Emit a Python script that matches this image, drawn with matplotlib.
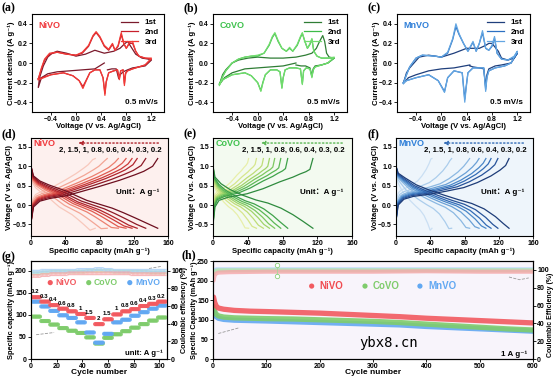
import numpy as np
import matplotlib
matplotlib.use('Agg')
from matplotlib import pyplot as plt

plt.rcParams['font.family'] = ['Liberation Sans', 'DejaVu Sans', 'Noto Sans CJK SC']
plt.rcParams['font.weight'] = 'bold'
plt.rcParams['axes.labelweight'] = 'bold'
plt.rcParams['axes.linewidth'] = 0.8

W, H = 554, 378

# ---------------- CV data (a-c) ----------------
names = ['NiVO', 'CoVO', 'MnVO']
cycle_labels = ['1st', '2nd', '3rd']

nivo_cv1_v = [0.45, 0.3, 0.1, -0.1, -0.3, -0.45, -0.55, -0.6, -0.58, -0.52, -0.45, -0.38, -0.3, -0.15, 0.0, 0.15,
              0.3, 0.45, 0.6, 0.7, 0.78, 0.82, 0.88, 0.95, 1.05, 1.15, 1.2, 1.1, 1.0, 0.9, 0.82, 0.75, 0.7, 0.68,
              0.64, 0.57, 0.5]
nivo_cv1_i = [0.0, -0.06, -0.07, -0.08, -0.09, -0.11, -0.15, -0.25, -0.15, -0.03, 0.06, 0.1, 0.12, 0.1, 0.07, 0.09,
              0.13, 0.1, 0.12, 0.15, 0.2, 0.22, 0.16, 0.09, 0.05, 0.04, 0.03, -0.03, -0.04, -0.05, -0.07, -0.09,
              -0.12, -0.16, -0.06, -0.06, -0.07]
nivo_cv2_v = [-0.6, -0.55, -0.5, -0.42, -0.3, -0.15, 0.0, 0.1, 0.2, 0.27, 0.32, 0.38, 0.45, 0.52, 0.58, 0.62, 0.67,
              0.72, 0.76, 0.8, 0.85, 0.9, 0.95, 1.0, 1.1, 1.2, 1.1, 1.0, 0.9, 0.82, 0.79, 0.77, 0.75, 0.71, 0.69,
              0.66, 0.6, 0.52, 0.48, 0.46, 0.43, 0.38, 0.3, 0.22, 0.15, 0.11, 0.05, -0.05, -0.2, -0.4, -0.55, -0.6]
nivo_cv2_i = [-0.16, -0.06, 0.03, 0.09, 0.11, 0.09, 0.08, 0.1, 0.17, 0.27, 0.31, 0.26, 0.17, 0.13, 0.19, 0.13, 0.17,
              0.29, 0.2, 0.15, 0.2, 0.2, 0.12, 0.07, 0.05, 0.04, -0.02, -0.04, -0.06, -0.08, -0.1, -0.21, -0.07,
              -0.08, -0.16, -0.07, -0.08, -0.1, -0.19, -0.31, -0.15, -0.07, -0.07, -0.1, -0.19, -0.24, -0.18, -0.13,
              -0.1, -0.12, -0.15, -0.16]
nivo_cv3_v = nivo_cv2_v
nivo_cv3_i = [-0.17, -0.05, 0.04, 0.1, 0.11, 0.09, 0.08, 0.11, 0.18, 0.28, 0.32, 0.27, 0.18, 0.14, 0.2, 0.13, 0.18,
              0.31, 0.2, 0.15, 0.21, 0.22, 0.12, 0.07, 0.05, 0.05, -0.02, -0.04, -0.06, -0.08, -0.11, -0.23, -0.07,
              -0.08, -0.17, -0.07, -0.08, -0.1, -0.2, -0.33, -0.15, -0.07, -0.07, -0.1, -0.2, -0.26, -0.18, -0.13,
              -0.1, -0.12, -0.16, -0.17]

covo_cv1_v = [0.6, 0.4, 0.2, 0.0, -0.2, -0.4, -0.52, -0.6, -0.55, -0.5, -0.4, -0.3, -0.15, 0.0, 0.2, 0.4, 0.6, 0.75,
              0.85, 0.92, 0.97, 1.02, 1.05, 1.08, 1.12, 1.2, 1.1, 1.0, 0.9, 0.87, 0.85, 0.82, 0.75, 0.68, 0.6]
covo_cv1_i = [0.0, -0.03, -0.04, -0.05, -0.06, -0.1, -0.15, -0.22, -0.12, -0.07, 0.0, 0.03, 0.05, 0.06, 0.05, 0.05,
              0.06, 0.08, 0.1, 0.15, 0.22, 0.28, 0.22, 0.1, 0.06, 0.05, 0.0, -0.02, -0.03, -0.06, -0.13, -0.05,
              -0.03, -0.03, -0.02]
covo_cv2_v = [-0.6, -0.55, -0.5, -0.4, -0.3, -0.2, -0.1, 0.0, 0.1, 0.18, 0.23, 0.27, 0.32, 0.38, 0.45, 0.5, 0.55,
              0.62, 0.67, 0.7, 0.74, 0.78, 0.82, 0.85, 0.88, 0.93, 1.0, 1.1, 1.2, 1.1, 1.0, 0.9, 0.87, 0.85, 0.82,
              0.76, 0.72, 0.7, 0.67, 0.6, 0.5, 0.43, 0.4, 0.38, 0.35, 0.3, 0.2, 0.12, 0.08, 0.05, 0.0, -0.1, -0.2,
              -0.4, -0.55, -0.6]
covo_cv2_i = [-0.22, -0.14, -0.08, 0.0, 0.04, 0.06, 0.07, 0.07, 0.1, 0.18, 0.26, 0.3, 0.22, 0.15, 0.12, 0.15, 0.12,
              0.18, 0.26, 0.3, 0.22, 0.15, 0.19, 0.24, 0.12, 0.07, 0.05, 0.05, 0.05, 0.0, -0.02, -0.04, -0.07,
              -0.14, -0.06, -0.05, -0.08, -0.21, -0.06, -0.05, -0.05, -0.07, -0.15, -0.25, -0.09, -0.07, -0.07,
              -0.12, -0.2, -0.28, -0.2, -0.13, -0.1, -0.12, -0.17, -0.21]
covo_cv3_v = covo_cv2_v
covo_cv3_i = [-0.23, -0.14, -0.08, 0.0, 0.04, 0.06, 0.07, 0.08, 0.1, 0.19, 0.27, 0.31, 0.23, 0.15, 0.12, 0.16, 0.12,
              0.19, 0.27, 0.31, 0.22, 0.15, 0.2, 0.25, 0.12, 0.07, 0.05, 0.05, 0.06, 0.0, -0.02, -0.04, -0.07, -0.15,
              -0.06, -0.05, -0.08, -0.22, -0.06, -0.05, -0.05, -0.07, -0.15, -0.26, -0.09, -0.07, -0.07, -0.12,
              -0.21, -0.29, -0.2, -0.13, -0.1, -0.12, -0.17, -0.22]

mnvo_cv1_v = [0.45, 0.2, 0.0, -0.2, -0.4, -0.52, -0.6, -0.55, -0.5, -0.35, -0.2, 0.0, 0.2, 0.4, 0.6, 0.7, 0.75, 0.8,
              0.85, 0.9, 0.95, 1.05, 1.15, 1.2, 1.1, 0.95, 0.85, 0.75, 0.72, 0.7, 0.67, 0.6, 0.5, 0.45]
mnvo_cv1_i = [-0.02, -0.05, -0.06, -0.08, -0.12, -0.15, -0.21, -0.1, -0.05, 0.06, 0.08, 0.06, 0.1, 0.15, 0.15, 0.18,
              0.2, 0.2, 0.16, 0.12, 0.05, 0.03, 0.05, 0.1, 0.0, -0.02, -0.03, -0.06, -0.12, -0.24, -0.06, -0.05,
              -0.04, -0.03]
mnvo_cv2_v = [-0.6, -0.55, -0.5, -0.4, -0.3, -0.1, 0.0, 0.1, 0.18, 0.23, 0.28, 0.35, 0.42, 0.5, 0.55, 0.6, 0.65,
              0.7, 0.75, 0.8, 0.84, 0.88, 0.95, 1.05, 1.15, 1.2, 1.1, 1.0, 0.85, 0.75, 0.72, 0.7, 0.67, 0.6, 0.5,
              0.42, 0.39, 0.37, 0.33, 0.2, 0.1, 0.05, -0.05, -0.2, -0.4, -0.55, -0.6]
mnvo_cv2_i = [-0.2, -0.12, -0.04, 0.05, 0.08, 0.07, 0.06, 0.1, 0.24, 0.37, 0.29, 0.2, 0.12, 0.21, 0.12, 0.2, 0.31,
              0.15, 0.13, 0.17, 0.25, 0.1, 0.04, 0.03, 0.06, 0.1, 0.0, -0.03, -0.05, -0.08, -0.14, -0.27, -0.05,
              -0.05, -0.05, -0.1, -0.25, -0.37, -0.1, -0.08, -0.15, -0.29, -0.18, -0.12, -0.15, -0.18, -0.2]
mnvo_cv3_v = mnvo_cv2_v
mnvo_cv3_i = [-0.21, -0.12, -0.04, 0.05, 0.08, 0.07, 0.06, 0.11, 0.25, 0.4, 0.3, 0.2, 0.12, 0.22, 0.12, 0.2, 0.33,
              0.15, 0.13, 0.18, 0.27, 0.1, 0.04, 0.03, 0.07, 0.12, 0.0, -0.03, -0.05, -0.08, -0.15, -0.29, -0.05,
              -0.05, -0.05, -0.1, -0.27, -0.4, -0.1, -0.08, -0.15, -0.3, -0.18, -0.12, -0.15, -0.18, -0.21]

cv_curves = [
    [(nivo_cv1_v, nivo_cv1_i), (nivo_cv2_v, nivo_cv2_i), (nivo_cv3_v, nivo_cv3_i)],
    [(covo_cv1_v, covo_cv1_i), (covo_cv2_v, covo_cv2_i), (covo_cv3_v, covo_cv3_i)],
    [(mnvo_cv1_v, mnvo_cv1_i), (mnvo_cv2_v, mnvo_cv2_i), (mnvo_cv3_v, mnvo_cv3_i)],
]
cv_colors = [['#7a1a2c', '#c8202c', '#f23a36'],
             ['#2f7d35', '#3dbb48', '#72dd6e'],
             ['#1f3f7c', '#2c70c2', '#63a6e2']]
label_colors = ['#f0383c', '#3fc24e', '#2f7fd8']

# ---------------- GCD data (d-f) ----------------
rates = ['0.2', '0.3', '0.4', '0.6', '0.8', '1', '1.5', '2']
gcd_caps = [[148, 134, 124, 118, 111, 102, 89, 75],
            [115, 86, 78, 71, 65, 58, 50, 41],
            [132, 119, 111, 105, 97, 86, 65, 42]]
gcd_pol = [0.0, 0.02, 0.04, 0.06, 0.08, 0.1, 0.13, 0.17]

chg_frac = [[0, .02, .07, .15, .28, .4, .54, .7, .82, .89, .96, 1.0],
            [0, .02, .06, .15, .34, .5, .67, .8, .87, .93, .97, 1.0],
            [0, .02, .07, .15, .3, .45, .6, .72, .84, .92, .97, 1.0]]
chg_v = [[-0.45, -0.05, 0.1, 0.17, 0.24, 0.35, 0.48, 0.64, 0.78, 0.87, 1.0, 1.2],
         [-0.5, -0.05, 0.12, 0.2, 0.29, 0.42, 0.6, 0.72, 0.8, 0.86, 0.92, 1.2],
         [-0.4, 0.0, 0.15, 0.22, 0.28, 0.36, 0.45, 0.58, 0.75, 0.9, 1.02, 1.2]]
dis_frac = [[0, .02, .07, .14, .2, .27, .35, .44, .54, .64, .73, .82, .92, 1.0],
            [0, .02, .08, .17, .3, .43, .55, .68, .8, .9, 1.0],
            [0, .02, .08, .18, .3, .42, .55, .67, .78, .88, .95, 1.0]]
dis_v = [[1.0, 0.75, 0.62, 0.52, 0.45, 0.37, 0.25, 0.12, 0.02, -0.08, -0.2, -0.33, -0.48, -0.6],
         [1.0, 0.72, 0.55, 0.4, 0.25, 0.13, 0.05, -0.08, -0.25, -0.42, -0.6],
         [1.0, 0.82, 0.7, 0.52, 0.38, 0.26, 0.14, 0.04, -0.1, -0.3, -0.48, -0.6]]

gcd_colors = [['#6e0f1f', '#8e1a26', '#b0242c', '#cc3a38', '#e05a50', '#ec8070', '#f3a595', '#f8c8bc'],
              ['#2e8b3e', '#3fa34a', '#5bb855', '#7cc860', '#a0d46a', '#bfdd78', '#d6e68c', '#e8efaa'],
              ['#1d3c78', '#27539a', '#336cb6', '#4a87c8', '#6aa0d6', '#8bb8e2', '#abcdec', '#cadff3']]
gcd_bg = ['#fdf0ee', '#f3faf0', '#eef5fb']

# ---------------- rate data (g) ----------------
g_rates = ['0.2', '0.3', '0.4', '0.6', '0.8', '1', '1.5', '2', '1.5', '1', '0.8', '0.6', '0.4', '0.3', '0.2']
g_nivo = [140, 130, 122, 114, 108, 102, 93, 79, 90, 101, 108, 113, 120, 125, 130]
g_covo = [96, 86, 78, 70, 64, 59, 49, 35, 48, 56, 63, 71, 79, 87, 94]
g_mnvo = [130, 119, 109, 99, 93, 83, 60, 37, 57, 83, 89, 98, 106, 114, 121]
g_ce_nivo = [94, 95, 96, 96, 97, 97, 97, 97, 97, 97, 97, 96, 96, 96, 96]
g_ce_covo = [97, 98, 99, 99, 99, 99, 100, 100, 100, 99, 99, 99, 99, 98, 98]
g_ce_mnvo = [99, 100, 100, 100, 100, 101, 101, 102, 101, 100, 100, 100, 100, 100, 100]
cycles_per_step = 7

# ---------------- long cycling (h) ----------------
h_cycles = [1, 3, 6, 10, 20, 40, 70, 100, 150, 200, 250, 300, 350, 400, 450, 500, 550, 600]
h_nivo = [158, 145, 135, 130, 127, 124, 122, 121, 119, 117, 114, 111, 108, 104, 101, 98, 95, 92]
h_covo = [135, 122, 114, 110, 107, 105, 104, 103, 102, 100, 98, 96, 93, 89, 85, 81, 77, 74]
h_mnvo = [128, 115, 108, 104, 101, 99, 98, 97, 95, 93, 91, 89, 87, 83, 80, 77, 74, 71]
h_ce_cycles = [1, 3, 6, 10, 30, 100, 200, 300, 400, 500, 600]
h_ce_nivo = [88, 94, 96, 97, 97.5, 98, 98, 98, 98.5, 98, 98]
h_ce_covo = [95, 98, 99, 99.5, 99.5, 99.5, 99.5, 99.5, 99.5, 99.5, 99.5]
h_ce_mnvo = [97, 99.5, 100.5, 100.5, 100.5, 100.5, 100.5, 100.5, 100.5, 100.5, 100.5]

mark_colors = ['#f25a60', '#7fcc6c', '#62a8f2']
ce_colors = ['#f6a7aa', '#b8e6aa', '#a9cff7']


def px_axes(fig, l, t, r, b):
    return fig.add_axes([l / W, 1 - b / H, (r - l) / W, (b - t) / H])


def style(ax):
    ax.tick_params(direction='out', length=2, width=0.6, labelsize=5.0, pad=1.0)


def put_labels(ax, box, xlab, ylab, xl_y, yl_x, fs=5.6):
    # place axis labels at pixel positions (label centre)
    l, t, r, b = box
    ax.set_xlabel(xlab, fontsize=fs)
    ax.set_ylabel(ylab, fontsize=fs)
    ax.xaxis.set_label_coords(0.5, -(xl_y - b) / (b - t))
    ax.xaxis.label.set_va('center')
    ax.yaxis.set_label_coords(-(l - yl_x) / (r - l), 0.5)
    ax.yaxis.label.set_va('center')


def right_label(axr, box, ylab, yl_x, fs=5.2, yc=0.5):
    l, t, r, b = box
    axr.set_ylabel(ylab, fontsize=fs)
    axr.yaxis.set_label_coords((yl_x - l) / (r - l), yc)
    axr.yaxis.label.set_va('center')


def panel_label(fig, x, y, s):
    fig.text(x / W, 1 - y / H, s, family='Liberation Serif', weight='bold', fontsize=8.5, va='top', ha='left')


fig = plt.figure(figsize=(W / 100, H / 100), dpi=100)

# ---- a-c
cv_boxes = [(32, 14, 164, 112), (213, 14, 347, 112), (397, 14, 530, 112)]
for k in range(3):
    box = cv_boxes[k]
    ax = px_axes(fig, *box)
    for j, (v, i) in enumerate(cv_curves[k]):
        ax.plot(v, i, color=cv_colors[k][j], lw=0.9, label=cycle_labels[j])
    ax.set_xlim(-0.7, 1.4)
    ax.set_ylim(-0.5, 0.5)
    ax.set_xticks([-0.4, 0.0, 0.4, 0.8, 1.2])
    ax.set_yticks([-0.4, -0.2, 0.0, 0.2, 0.4])
    style(ax)
    put_labels(ax, box, 'Voltage (V vs. Ag/AgCl)', 'Current density (A g⁻¹)', 127, box[0] - 21)
    ax.text(0.05, 0.93, names[k], transform=ax.transAxes, color=label_colors[k], fontsize=6.5, va='top')
    ax.text(0.95, 0.06, '0.5 mV/s', transform=ax.transAxes, fontsize=5.8, ha='right', va='bottom')
    ax.legend(loc='upper right', frameon=False, fontsize=5.8, handlelength=2.2, borderaxespad=0.2,
              labelspacing=0.25, handletextpad=0.8)

# ---- d-f
gcd_boxes = [(31, 138, 168, 236), (213, 138, 352, 236), (396, 138, 533, 236)]
for k in range(3):
    box = gcd_boxes[k]
    ax = px_axes(fig, *box)
    ax.set_facecolor(gcd_bg[k])
    for r in range(len(rates) - 1, -1, -1):
        cap = gcd_caps[k][r]
        pol = gcd_pol[r]
        cv = np.array(chg_v[k], dtype=float)
        cv[1:-1] += pol
        dv = np.array(dis_v[k], dtype=float)
        dv[1:-1] -= pol
        ax.plot(np.array(chg_frac[k]) * cap, cv, color=gcd_colors[k][r], lw=0.9)
        ax.plot(np.array(dis_frac[k]) * cap, dv, color=gcd_colors[k][r], lw=0.9)
    ax.set_xlim(0, 160)
    ax.set_ylim(-0.8, 1.73)
    ax.set_xticks([0, 40, 80, 120, 160])
    ax.set_yticks([-0.5, 0.0, 0.5, 1.0, 1.5])
    style(ax)
    put_labels(ax, box, 'Specific capacity (mAh g⁻¹)', 'Voltage (V vs. Ag/AgCl)', 251, box[0] - 21)
    ax.text(3, 1.6, names[k], color=label_colors[k], fontsize=6.5, va='center')
    ax.annotate('', xy=(52, 1.6), xytext=(152, 1.6),
                arrowprops=dict(arrowstyle='-|>', color=gcd_colors[k][2], lw=1.0, ls=':',
                                mutation_scale=6))
    ax.text(152, 1.42, ', '.join(rates[::-1]), fontsize=5.6, ha='right', va='center')
    ax.text(150, 0.32, 'Unit：A g⁻¹', fontsize=5.8, ha='right', va='center')

# ---- g
gbox = (31, 261, 167, 359)
ax = px_axes(fig, *gbox)
axr = ax.twinx()
nsteps = len(g_rates)
cyc = np.arange(1, nsteps * cycles_per_step + 1)
for vals, ce, c, cc in [(g_covo, g_ce_covo, mark_colors[1], ce_colors[1]),
                         (g_mnvo, g_ce_mnvo, mark_colors[2], ce_colors[2]),
                         (g_nivo, g_ce_nivo, mark_colors[0], ce_colors[0])]:
    ax.scatter(cyc, np.repeat(vals, cycles_per_step), s=9, color=c, edgecolors='none', alpha=0.9, zorder=3)
    axr.scatter(cyc, np.repeat(ce, cycles_per_step), s=5, facecolors='none', edgecolors=cc, lw=0.5, alpha=0.7)
for s in range(nsteps):
    xc = s * cycles_per_step + cycles_per_step / 2
    ax.text(xc, g_nivo[s] + 7, g_rates[s], fontsize=4.4, ha='center', va='bottom')
for k, xl in enumerate([15, 45, 77]):
    ax.scatter([xl], [173], s=14, color=mark_colors[k], edgecolors='none')
    ax.text(xl + 4, 173, names[k], color=mark_colors[k], fontsize=6.2, va='center')
ax.plot([4, 18], [55, 60], ls='--', color='#999999', lw=0.6)
ax.plot([92, 102], [205, 210], ls='--', color='#999999', lw=0.6)
ax.text(103, 12, 'unit: A g⁻¹', fontsize=5.6, ha='right', va='center')
ax.set_xlim(0, 106)
ax.set_ylim(0, 222)
axr.set_ylim(0, 111)
ax.set_xticks([0, 20, 40, 60, 80, 100])
ax.set_yticks([0, 50, 100, 150, 200])
axr.set_yticks([0, 20, 40, 60, 80, 100])
style(ax)
style(axr)
put_labels(ax, gbox, 'Cycle number', 'Specific capacity (mAh g⁻¹)', 373, 12, fs=5.4)
ax.xaxis.label.set_fontsize(6.0)
right_label(axr, gbox, 'Coulombic efficiency (%)', 185)

# ---- h
hbox = (213, 261, 533, 359)
ax = px_axes(fig, *hbox)
ax.set_facecolor('#f8f4fb')
axr = ax.twinx()
for vals, ce, c, cc in [(h_nivo, h_ce_nivo, mark_colors[0], ce_colors[0]),
                         (h_covo, h_ce_covo, mark_colors[1], ce_colors[1]),
                         (h_mnvo, h_ce_mnvo, mark_colors[2], ce_colors[2])][::-1]:
    ax.plot(h_cycles, vals, color=c, lw=3.8, alpha=0.9, solid_capstyle='round')
    axr.plot(h_ce_cycles, ce, color=cc, lw=3.0, alpha=0.8, solid_capstyle='round')
axr.plot([120, 120], [93, 106], color='#a8d99a', lw=0.6)
axr.scatter([120, 120], [93, 106], s=10, facecolors='white', edgecolors='#8ccf7a', lw=0.6, zorder=4)
for k, xl in enumerate([185, 285, 388]):
    ax.scatter([xl], [186], s=14, color=mark_colors[k], edgecolors='none')
    ax.text(xl + 15, 186, names[k], color=mark_colors[k] if k else '#f04a50', fontsize=7, va='center')
ax.plot([10, 50], [65, 80], ls='--', color='#999999', lw=0.6)
axr.plot([555, 575, 592], [92, 89, 91], ls='--', color='#999999', lw=0.6)
ax.text(590, 12, '1 A g⁻¹', fontsize=5.8, ha='right', va='center')
ax.text(330, 40, 'ybx8.cn', family='DejaVu Sans Mono', weight='normal', fontsize=10, ha='center', va='center')
ax.set_xlim(0, 600)
ax.set_ylim(0, 250)
axr.set_ylim(0, 110)
ax.set_xticks(range(0, 601, 100))
ax.set_yticks(range(0, 251, 50))
axr.set_yticks(range(0, 101, 20))
style(ax)
style(axr)
put_labels(ax, hbox, 'Cycle number', 'Specific Capacity (mAh g⁻¹)', 373, 195, fs=5.3)
ax.xaxis.label.set_fontsize(6.0)
right_label(axr, hbox, 'Coulombic Efficiency (%)', 550, fs=5.0, yc=0.45)

for x, y, s in [(2, 2, '(a)'), (183, 2, '(b)'), (368, 2, '(c)'),
                (2, 128, '(d)'), (183, 128, '(e)'), (368, 128, '(f)'),
                (2, 251, '(g)'), (182, 249, '(h)')]:
    panel_label(fig, x, y, s)

fig.savefig('out.png', dpi=100)
